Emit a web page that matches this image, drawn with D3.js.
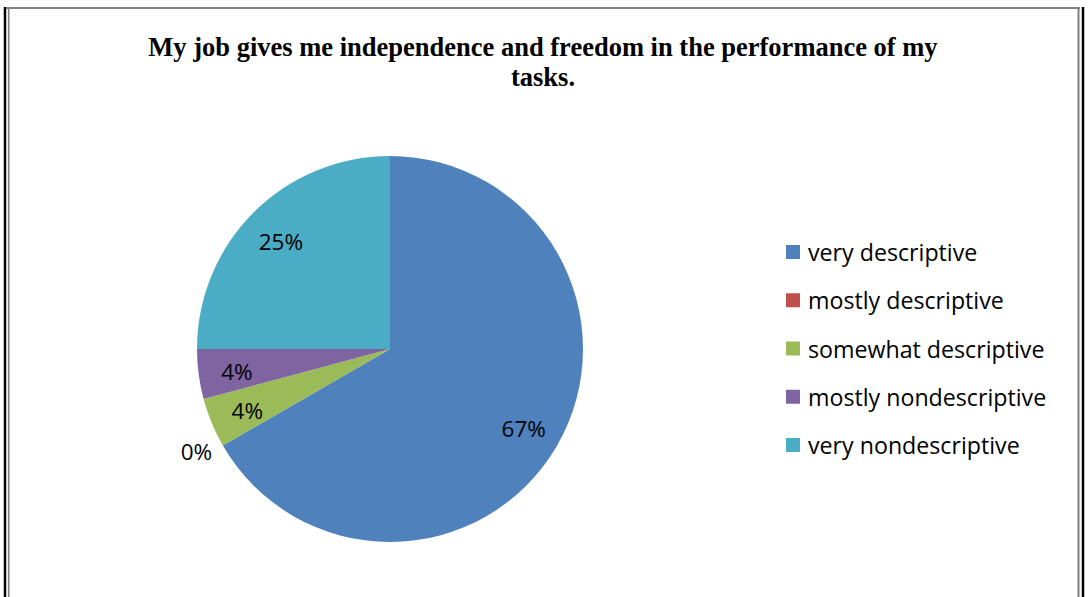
<!DOCTYPE html>
<html><head><meta charset="utf-8">
<script src="https://cdn.jsdelivr.net/npm/d3@7/dist/d3.min.js"></script>
<style>html,body{margin:0;padding:0;background:#fff;overflow:hidden}</style>
</head><body>
<svg id="c" width="1088" height="597"></svg>
<script>
const categories = ["very descriptive","mostly descriptive","somewhat descriptive","mostly nondescriptive","very nondescriptive"];
const counts = [16, 0, 1, 1, 6];
const colors = ["#4F81BD","#C0504D","#9BBB59","#8064A2","#4BACC6"];
const titleLines = ["My job gives me independence and freedom in the performance of my","tasks."];

const svg = d3.select("#c");
// frame
svg.append("line").attr("x1",5).attr("x2",5).attr("y1",7).attr("y2",597).attr("stroke","#000").attr("stroke-width",2.5);
svg.append("line").attr("x1",6).attr("x2",1080).attr("y1",8).attr("y2",8).attr("stroke","#808080").attr("stroke-width",1.8);
svg.append("line").attr("x1",8.7).attr("x2",8.7).attr("y1",8).attr("y2",597).attr("stroke","#808080").attr("stroke-width",1.6);
svg.append("line").attr("x1",1078.5).attr("x2",1078.5).attr("y1",8).attr("y2",597).attr("stroke","#808080").attr("stroke-width",2);
svg.append("line").attr("x1",1083).attr("x2",1083).attr("y1",7).attr("y2",597).attr("stroke","#000").attr("stroke-width",2.5);

// title
const title = svg.append("text").attr("text-anchor","middle")
  .attr("font-family","'Liberation Serif','Times New Roman',serif").attr("font-weight","bold")
  .attr("font-size",26.5).attr("fill","#000");
titleLines.forEach((t,i)=>title.append("tspan").attr("x",543).attr("y",56+i*30).text(t));

// pie
const cx = 390, cy = 349, r = 193;
const total = d3.sum(counts);
const pie = d3.pie().sort(null).value(d=>d.v);
const data = pie(counts.map((v,i)=>({v,i})));
const arc = d3.arc().innerRadius(0).outerRadius(r);
const g = svg.append("g").attr("transform",`translate(${cx},${cy})`);
g.selectAll("path").data(data).join("path").attr("d",arc).attr("fill",d=>colors[d.data.i]);

const inLabel = d3.arc().innerRadius(r*0.8).outerRadius(r*0.8);
g.selectAll("text.lbl").data(data).join("text").attr("class","lbl")
  .attr("transform",d=>{
    let c;
    if (d.data.v === 0) { const a = d.startAngle + 0.045; c = [Math.sin(a)*r*1.13, -Math.cos(a)*r*1.13]; }
    else c = inLabel.centroid(d);
    return `translate(${c[0]},${c[1]+2})`;
  })
  .attr("text-anchor","middle").attr("dominant-baseline","central")
  .attr("font-family","'Open Sans',sans-serif").attr("font-size",22.5).attr("fill","#000")
  .text(d=>Math.round(d.data.v/total*100)+"%");

// legend
const ly = d3.scalePoint().domain(categories).range([252,445]);
const lg = svg.append("g").selectAll("g").data(categories).join("g")
  .attr("transform",d=>`translate(786,${ly(d)})`);
lg.append("rect").attr("x",0).attr("y",-7).attr("width",14).attr("height",14).attr("fill",(d,i)=>colors[i]);
lg.append("text").attr("x",22).attr("y",0).attr("dominant-baseline","central")
  .attr("font-family","'Open Sans',sans-serif").attr("font-size",23.2).attr("fill","#000").text(d=>d);
</script>
</body></html>
